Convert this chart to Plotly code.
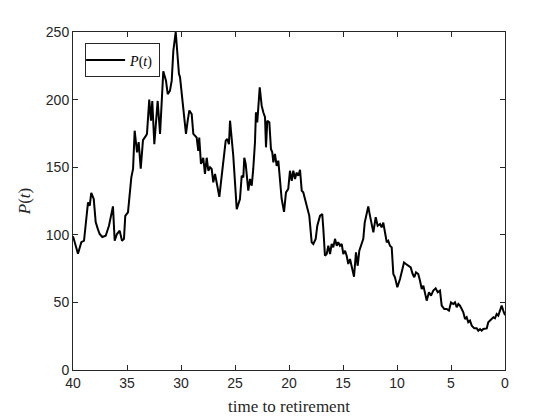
import plotly.graph_objects as go

# time to retirement (years)
t_years = [40.00, 39.54, 39.23, 38.98, 38.77, 38.61, 38.45, 38.31, 38.08, 37.90,
           37.69, 37.53, 37.29, 36.97, 36.67, 36.45, 36.30, 36.14, 35.93, 35.68,
           35.46, 35.28, 35.16, 34.91, 34.75, 34.60, 34.44, 34.29, 34.07, 33.92,
           33.73, 33.52, 33.27, 33.15, 32.94, 32.78, 32.66, 32.47, 32.16, 31.94,
           31.64, 31.39, 31.23, 31.02, 30.86, 30.71, 30.49, 30.34, 30.19, 30.09,
           29.88, 29.69, 29.54, 29.38, 29.23, 29.01, 28.86, 28.55, 28.40, 28.31,
           28.15, 27.94, 27.78, 27.62, 27.47, 27.31, 27.16, 27.01, 26.85, 26.64,
           26.45, 26.30, 26.08, 25.86, 25.71, 25.56, 25.46, 25.31, 25.16, 25.00,
           24.84, 24.54, 24.38, 24.23, 24.14, 24.01, 23.77, 23.61, 23.45, 23.31,
           23.15, 23.06, 22.94, 22.71, 22.53, 22.38, 22.22, 22.13, 22.01, 21.82,
           21.67, 21.55, 21.45, 21.30, 21.14, 20.99, 20.83, 20.68, 20.46, 20.28,
           20.07, 19.91, 19.75, 19.60, 19.44, 19.29, 19.14, 18.98, 18.82, 18.68,
           18.52, 18.36, 18.12, 17.90, 17.75, 17.53, 17.38, 17.13, 16.92, 16.82,
           16.67, 16.51, 16.36, 16.20, 16.05, 15.90, 15.74, 15.58, 15.44, 15.28,
           15.12, 14.97, 14.81, 14.66, 14.51, 14.35, 14.19, 13.98, 13.80, 13.64,
           13.49, 13.24, 13.12, 12.99, 12.75, 12.66, 12.50, 12.34, 12.19, 11.97,
           11.79, 11.57, 11.42, 11.27, 11.11, 10.95, 10.81, 10.65, 10.49, 10.34,
           10.19, 9.97, 9.72, 9.51, 9.35, 9.17, 8.95, 8.73, 8.55, 8.40,
           8.24, 8.03, 7.87, 7.71, 7.56, 7.41, 7.25, 7.04, 6.85, 6.64,
           6.42, 6.23, 6.02, 5.86, 5.62, 5.40, 5.19, 5.00, 4.79, 4.63,
           4.47, 4.32, 4.17, 4.01, 3.86, 3.70, 3.55, 3.40, 3.24, 3.08,
           2.84, 2.62, 2.47, 2.31, 2.16, 2.01, 1.85, 1.69, 1.55, 1.39,
           1.23, 1.08, 0.93, 0.77, 0.62, 0.46, 0.31, 0.16, 0.00]

# P(t)
price = [99, 86, 94.5, 95.6, 111.7, 124, 121.5, 131, 126.5, 109.5,
         104, 100.6, 98.4, 99.3, 106.7, 114, 121, 95.6, 100.6, 103,
         95.6, 97, 114, 116.6, 131.4, 142.5, 148.7, 177, 161, 168.6,
         149, 170, 173, 174.6, 200, 184.4, 199, 167, 199, 174.6,
         221, 214, 204, 206.6, 214, 236, 250, 233.7, 219, 216.5,
         199, 184.4, 174.6, 184.4, 192, 189.3, 174.6, 172, 162, 172,
         152.4, 157, 145, 157, 147.4, 150, 148.7, 138.8, 145, 136.3,
         128, 138.8, 156, 169.6, 170.9, 167, 184.4, 173, 158.5, 138.8,
         119, 126.5, 143.7, 142.5, 157, 152.4, 132.6, 141.3, 136.3, 148.7,
         168.4, 190.6, 183.2, 209, 195.5, 190.6, 187, 164.7, 184.4, 183.2,
         163.5, 161, 153.6, 159.8, 151, 154.8, 136, 126.5, 117, 131.4,
         133.9, 147.4, 140, 147.4, 141.3, 146, 143.7, 148, 132.6, 131.4,
         126.5, 121.5, 114, 94.5, 93.2, 97, 106.7, 114, 115.4, 104.3,
         84.5, 85.8, 91.9, 85.8, 93.2, 90.7, 97, 91.9, 94.5, 91.9,
         93.2, 85.8, 88.2, 84.5, 78.4, 82.1, 77.1, 69, 87, 77.1,
         88.2, 94.5, 97, 109, 119, 121, 114, 106.7, 101.8, 113,
         106.7, 108, 105.5, 109, 103, 94.5, 95.6, 91.9, 90.7, 71,
         68.6, 61.2, 67.3, 73.4, 79.5, 78.4, 77.1, 75.9, 71, 68.6,
         72.2, 71, 66, 59.9, 62.4, 58, 51.3, 57.5, 55, 58.7,
         60.4, 57.5, 58.7, 47.6, 45.1, 45.1, 43.9, 50, 48.8, 50,
         46.4, 48.8, 47.6, 45.1, 42.7, 37.7, 39, 35.3, 36.5, 32.8,
         30.8, 30.8, 29.1, 30.3, 29.1, 30.3, 30.3, 30.8, 35.3, 36.5,
         37.7, 39, 38.2, 41.4, 40.2, 43.9, 47.6, 43.9, 40.5]

x_ticks = [40, 35, 30, 25, 20, 15, 10, 5, 0]
y_ticks = [0, 50, 100, 150, 200, 250]

fig = go.Figure()
fig.add_trace(go.Scatter(
    x=t_years, y=price, mode="lines",
    line=dict(color="black", width=2),
    name="<i>P</i>(<i>t</i>)",
))

axis_common = dict(
    showline=True, linecolor="#262626", linewidth=1, mirror="ticks",
    ticks="inside", ticklen=5, tickwidth=1, tickcolor="#262626",
    showgrid=False, zeroline=False, automargin=False,
    tickfont=dict(family="Liberation Sans, Arial", size=14, color="#262626"),
)

fig.update_layout(
    width=560, height=420,
    margin=dict(l=65, r=63, t=24, b=58),
    paper_bgcolor="white", plot_bgcolor="white",
    showlegend=True,
    legend=dict(
        x=0.028, y=0.966, xanchor="left", yanchor="top",
        bgcolor="white", bordercolor="#262626", borderwidth=1,
        font=dict(family="Liberation Serif, DejaVu Serif", size=14, color="black"),
        itemwidth=40, tracegroupgap=0, indentation=-6,
    ),
    xaxis=dict(
        range=[40, 0], tickvals=x_ticks,
        title=dict(text="time to retirement", standoff=10,
                   font=dict(family="Liberation Serif, DejaVu Serif", size=17, color="#262626")),
        **axis_common,
    ),
    yaxis=dict(
        range=[0, 250], tickvals=y_ticks,
        title=dict(text="<i>P</i>(<i>t</i>)", standoff=10,
                   font=dict(family="Liberation Serif, DejaVu Serif", size=17, color="#262626")),
        **axis_common,
    ),
)

fig.write_html("out.html")
